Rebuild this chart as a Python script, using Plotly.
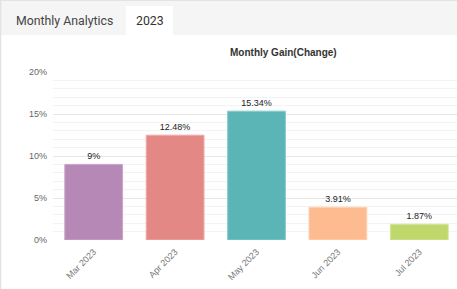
import plotly.graph_objects as go

months = ["Mar 2023", "Apr 2023", "May 2023", "Jun 2023", "Jul 2023"]
gains = [9, 12.48, 15.34, 3.91, 1.87]
labels = ["9%", "12.48%", "15.34%", "3.91%", "1.87%"]
colors = ["#b688b5", "#e48886", "#5bb5b6", "#ffbb90", "#bfd86c"]
borders = ["#c9a6c8", "#eeaaa8", "#8acccc", "#ffd2b4", "#d3e49a"]
ytick_vals = [0, 5, 10, 15, 20]
ytick_text = ["0%", "5%", "10%", "15%", "20%"]

W, H = 457, 289
L, R, T, B = 53, 0, 72, 49
PW, PH = W - L - R, H - T - B

def px(x):
    return (x - L) / PW

def py(y):
    return (H - B - y) / PH

fig = go.Figure(go.Bar(
    x=months, y=gains, text=labels, textposition="outside",
    textfont=dict(family="Liberation Sans, Arial", size=9, color="#222"),
    marker=dict(color=colors, line=dict(color=borders, width=1)),
    cliponaxis=False, hoverinfo="skip",
))

shapes = [
    dict(type="rect", xref="paper", yref="paper", x0=px(0), x1=px(W), y0=py(35), y1=py(0),
         fillcolor="#f5f5f5", line=dict(width=0), layer="below"),
    dict(type="rect", xref="paper", yref="paper", x0=px(126), x1=px(173), y0=py(35), y1=py(6),
         fillcolor="#ffffff", line=dict(width=0), layer="below"),
    dict(type="line", xref="paper", yref="paper", x0=px(0), x1=px(W), y0=py(0.5), y1=py(0.5),
         line=dict(color="#e2e2e2", width=1)),
    dict(type="line", xref="paper", yref="paper", x0=px(0.5), x1=px(0.5), y0=py(0), y1=py(H),
         line=dict(color="#e2e2e2", width=1.5)),
]

annotations = [
    dict(text="Monthly Analytics", xref="paper", yref="paper", x=px(14), y=py(20.5),
         xanchor="left", yanchor="middle", showarrow=False,
         font=dict(family="Roboto", size=12.3, color="#444")),
    dict(text="2023", xref="paper", yref="paper", x=px(149.5), y=py(20.5),
         xanchor="center", yanchor="middle", showarrow=False,
         font=dict(family="Roboto", size=12.3, color="#333")),
    dict(text="<b>Monthly Gain(Change)</b>", xref="paper", yref="paper", x=px(283), y=py(52),
         xanchor="center", yanchor="middle", showarrow=False,
         font=dict(family="Liberation Sans, Arial", size=10, color="#333")),
]

fig.update_layout(
    width=W, height=H, margin=dict(l=L, r=R, t=T, b=B),
    paper_bgcolor="white", plot_bgcolor="white",
    showlegend=False, bargap=0.29,
    shapes=shapes, annotations=annotations,
    xaxis=dict(range=[-0.5, 4.463], tickangle=-45, showgrid=False, showline=False,
               ticks="", ticklabelstandoff=4,
               tickfont=dict(family="Liberation Sans, Arial", size=9, color="#777"),
               fixedrange=True),
    yaxis=dict(range=[0, 20], tickvals=ytick_vals, ticktext=ytick_text,
               gridcolor="#e6e6e6", gridwidth=1, zeroline=False, showline=False,
               ticks="", ticklabelstandoff=5,
               tickfont=dict(family="Liberation Sans, Arial", size=9, color="#666"),
               minor=dict(dtick=1, showgrid=True, gridcolor="#f3f3f3", gridwidth=1),
               fixedrange=True),
)

fig.write_html("out.html", config=dict(displayModeBar=False))
